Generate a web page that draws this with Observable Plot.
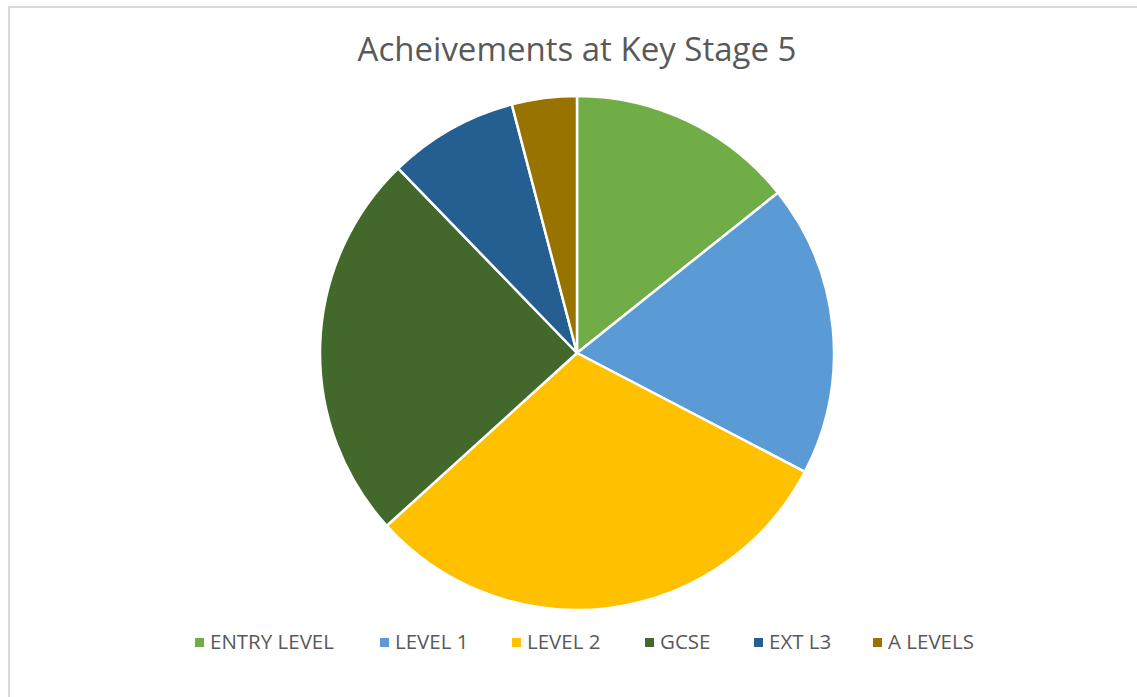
<!DOCTYPE html>
<html>
<head>
<meta charset="utf-8">
<script src="https://cdn.jsdelivr.net/npm/d3@7"></script>
<script src="https://cdn.jsdelivr.net/npm/@observablehq/plot@0.6"></script>
<style>
  html, body { margin: 0; padding: 0; background: #fff; }
  #frame { position: absolute; left: 8px; top: 6px; width: 1140px; height: 700px; border-left: 2px solid #d9d9d9; border-top: 2px solid #d9d9d9; box-sizing: border-box; }
  #title { position: absolute; left: 0; width: 1154px; top: 26px; text-align: center; font-family: "Open Sans", sans-serif; font-size: 33px; color: #595959; }
  #chart { position: absolute; left: 0; top: 90px; }
  #legend { position: absolute; top: 628px; left: 0; width: 1137px; font-family: "Open Sans", sans-serif; font-size: 20.5px; color: #595959; }
  .item { position: absolute; white-space: nowrap; line-height: 26px; }
  .sw { display: inline-block; width: 9px; height: 9px; margin-right: 6px; vertical-align: 2px; }
</style>
</head>
<body>
<div id="frame"></div>
<div id="title">Acheivements at Key Stage 5</div>
<div id="chart"></div>
<div id="legend"></div>
<script>
const categories = ["ENTRY LEVEL", "LEVEL 1", "LEVEL 2", "GCSE", "EXT L3", "A LEVELS"];
const values = [7, 9, 15, 12, 4, 2];
const colors = ["#70AD47", "#5B9BD5", "#FFC000", "#43682B", "#255E91", "#997300"];
const legendLeft = [195, 380, 512, 645, 754, 873];

const data = categories.map((c, i) => ({category: c, value: values[i]}));

const pieMark = (index, scales, channels, dimensions, context) => {
  const cx = scales.x(0), cy = scales.y(0);
  const r = scales.x(1) - scales.x(0);
  const arcs = d3.pie().sort(null).value(d => d.value)(data);
  const arc = d3.arc().innerRadius(0).outerRadius(r);
  const g = d3.create("svg:g").attr("transform", `translate(${cx},${cy})`);
  g.selectAll("path").data(arcs).join("path")
    .attr("d", arc)
    .attr("fill", d => scales.color(d.data.category))
    .attr("stroke", "#fff")
    .attr("stroke-width", 2.5)
    .attr("stroke-linejoin", "round");
  return g.node();
};

const plot = Plot.plot({
  width: 1137,
  height: 530,
  margin: 0,
  x: {domain: [-1, 1], range: [577 - 257, 577 + 257], axis: null},
  y: {domain: [-1, 1], range: [263 + 257, 263 - 257], axis: null},
  color: {domain: categories, range: colors},
  marks: [pieMark]
});
document.getElementById("chart").appendChild(plot);

const legend = document.getElementById("legend");
categories.forEach((c, i) => {
  const it = document.createElement("div");
  it.className = "item";
  it.style.left = legendLeft[i] + "px";
  it.innerHTML = `<span class="sw" style="background:${colors[i]}"></span>${c}`;
  legend.appendChild(it);
});
</script>
</body>
</html>
